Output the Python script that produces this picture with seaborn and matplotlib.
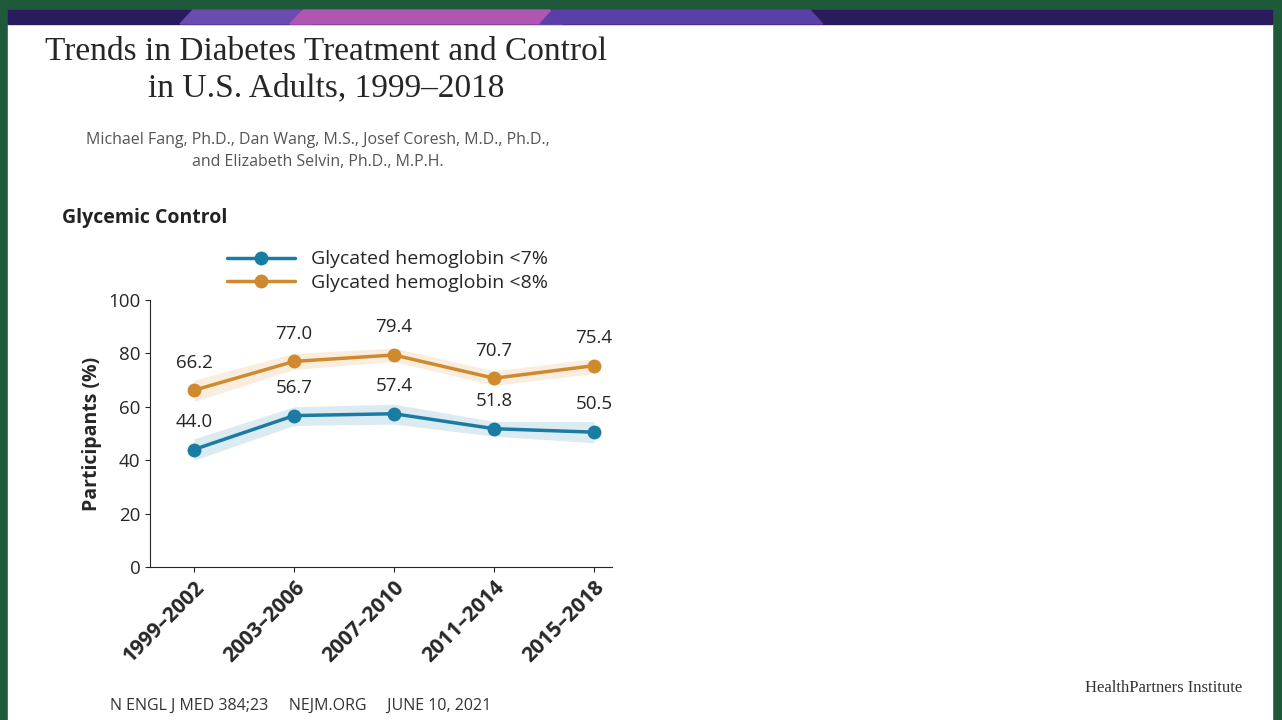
import numpy as np
import pandas as pd
import matplotlib.pyplot as plt
import seaborn as sns
from matplotlib.patches import Rectangle, Polygon

periods = ['1999–2002', '2003–2006', '2007–2010', '2011–2014', '2015–2018']
a1c7 = [44.0, 56.7, 57.4, 51.8, 50.5]
a1c7_lo = [40.0, 53.0, 53.5, 49.0, 46.5]
a1c7_hi = [48.0, 60.0, 61.0, 54.5, 54.5]
a1c8 = [66.2, 77.0, 79.4, 70.7, 75.4]
a1c8_lo = [62.0, 74.0, 77.0, 68.0, 72.5]
a1c8_hi = [70.0, 80.0, 82.0, 73.5, 78.0]
series_names = ['Glycated hemoglobin <7%', 'Glycated hemoglobin <8%']

blue = '#1a7ba3'
orange = '#d08a2e'

sns.set_style('ticks')
plt.rcParams['font.family'] = ['Open Sans', 'DejaVu Sans']

fig = plt.figure(figsize=(12.82, 7.2), dpi=100)

# frame and banner
fig.patches.append(Rectangle((0, 0), 1, 1, transform=fig.transFigure, color='#1e5a3a', zorder=-10))
fig.patches.append(Rectangle((8/1282, 0), 1264/1282, 696/720, transform=fig.transFigure, color='white', zorder=-9))
fig.patches.append(Rectangle((8/1282, 696/720), 1264/1282, 14/720, transform=fig.transFigure, color='#2a1a5e', zorder=-8))
for x0, x1, c in [(180, 300, '#6a4bb0'), (290, 550, '#b055b0'), (540, 810, '#5b3fa8')]:
    fig.patches.append(Polygon([(x0/1282, 696/720), (x0/1282+0.01, 710/720), (x1/1282, 710/720), (x1/1282+0.01, 696/720)],
                               transform=fig.transFigure, color=c, zorder=-7))

ax = fig.add_axes([150/1282, 153/720, 462/1282, 267/720])
df = pd.DataFrame({'period': periods * 2, 'value': a1c7 + a1c8,
                   'series': [series_names[0]] * 5 + [series_names[1]] * 5})
x = np.arange(len(periods))
ax.fill_between(x, a1c7_lo, a1c7_hi, color=blue, alpha=0.15, lw=0)
ax.fill_between(x, a1c8_lo, a1c8_hi, color=orange, alpha=0.15, lw=0)
sns.lineplot(data=df, x='period', y='value', hue='series', palette=[blue, orange],
             marker='o', markersize=10, markeredgewidth=0, linewidth=2.5, ax=ax, sort=False)
for xi, v in zip(x, a1c7):
    ax.text(xi, v + 7, f'{v:.1f}', ha='center', va='bottom', fontsize=13.5)
for xi, v in zip(x, a1c8):
    ax.text(xi, v + 7, f'{v:.1f}', ha='center', va='bottom', fontsize=13.5)

ax.set_xlim(-0.44, 4.18)
ax.set_ylim(0, 100)
ax.set_yticks([0, 20, 40, 60, 80, 100])
ax.tick_params(axis='y', labelsize=13.5)
ax.set_xticks(x)
ax.set_xticklabels(periods, rotation=45, ha='right', rotation_mode='anchor', fontsize=15, fontweight='bold')
ax.set_xlabel('')
ax.set_ylabel('Participants (%)', fontsize=14, fontweight='bold')
sns.despine(ax=ax)
ax.legend(loc='lower left', bbox_to_anchor=(0.15, 1.0), frameon=False, fontsize=14,
          handlelength=3.5, borderaxespad=0, labelspacing=0.3)

fig.text(326/1282, 1 - 70/720, 'Trends in Diabetes Treatment and Control\nin U.S. Adults, 1999–2018',
         ha='center', va='center', fontsize=24, family='Liberation Serif', linespacing=1.25)
fig.text(318/1282, 1 - 151/720, 'Michael Fang, Ph.D., Dan Wang, M.S., Josef Coresh, M.D., Ph.D.,\nand Elizabeth Selvin, Ph.D., M.P.H.',
         ha='center', va='center', fontsize=11.5, color='#555555', linespacing=1.5)
fig.text(62/1282, 1 - 218/720, 'Glycemic Control', ha='left', va='center', fontsize=14, fontweight='bold', color='#222222')
fig.text(110/1282, 1 - 706/720, 'N ENGL J MED 384;23     NEJM.ORG     JUNE 10, 2021',
         ha='left', va='center', fontsize=11.5, color='#333333')
fig.text(1242/1282, 1 - 688/720, 'HealthPartners Institute', ha='right', va='center',
         fontsize=12, family='Liberation Serif', color='#333333')

fig.savefig('out.png', dpi=100)
